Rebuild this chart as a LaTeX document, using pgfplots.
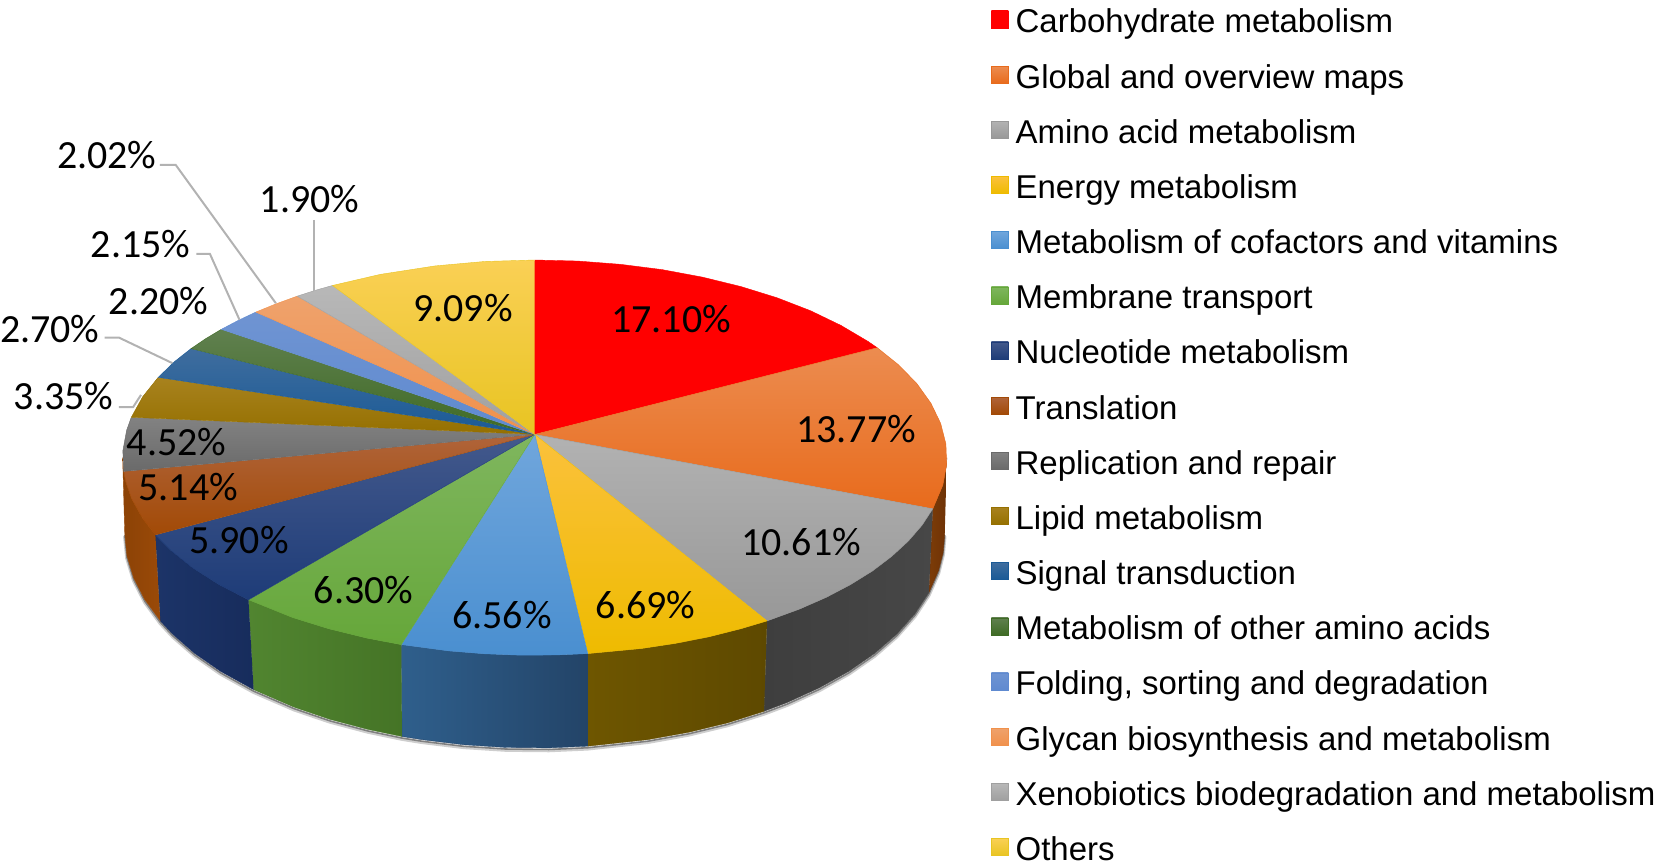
\documentclass[border=0pt]{standalone}
\usepackage{fontspec}
\setmainfont{Liberation Sans}
\newfontfamily\pct{Carlito}
\usepackage{pgfplots}
\usepackage{pgfplotstable}
\pgfplotsset{compat=1.18}

% rim of the base, picture pixels
\pgfplotstableread{
x y
893.0 504.7
891.5 522.4
887.1 539.9
878.0 560.6
864.8 580.7
847.6 600.0
826.7 618.2
802.2 635.2
774.5 650.7
743.9 664.7
722.0 673.0
687.2 684.0
650.3 692.9
611.9 699.8
555.0 706.0
518.5 707.6
477.9 707.2
437.6 704.6
398.1 699.8
379.3 696.8
347.2 690.1
311.0 680.5
277.0 668.9
238.9 652.4
207.8 635.2
183.3 618.2
162.4 600.0
150.6 587.3
136.0 567.4
125.5 546.9
119.1 525.9
117.0 504.7
}\baserim

\pgfplotsset{
  slice/.code 2 args={\definecolor{#1}{HTML}{#1}\definecolor{#2}{HTML}{#2}%
    \pgfkeysalso{/tikz/shade,/tikz/top color=#1,/tikz/bottom color=#2,/tikz/draw=#2,/tikz/line width=0.4pt}},
  wall/.code 2 args={\definecolor{#1}{HTML}{#1}\definecolor{#2}{HTML}{#2}%
    \pgfkeysalso{/tikz/shade,/tikz/left color=#1,/tikz/right color=#2,/tikz/draw=#2,/tikz/line width=0.4pt,/pgfplots/forget plot}},
  leader/.style={draw=black!30,line width=2pt,forget plot},
}
\newcommand{\pctlabel}[2]{\node[font=\pct\fontsize{40}{40}\selectfont,text=black,inner sep=0pt] at (axis cs:#1) {#2};}

\begin{document}
\begin{tikzpicture}
\begin{axis}[
  width=1658pt,height=863pt,scale only axis,
  xmin=0,xmax=1568,ymin=0,ymax=816,y dir=reverse,
  hide axis,clip=false,
  legend image code/.code={\path[#1] (0pt,-6pt) rectangle (17pt,11pt);},
  legend cell align=left,
  legend style={
    at={(axis cs:937,8.5)},anchor=north west,draw=none,fill=none,
    inner sep=0pt,outer sep=0pt,row sep=29.2pt,
    nodes={font=\fontsize{33}{33}\selectfont,text height=24pt,text depth=2pt,inner sep=0pt,outer sep=0pt},
    /tikz/column 1/.style={column sep=7pt},
  },
]
\path (axis cs:0,0) rectangle (axis cs:1568,816);

% soft shadow under the base
\addplot[draw=black!55,line width=3.5pt,opacity=0.35,forget plot] table[y expr=\thisrow{y}+2.5] {\baserim};
\addplot[draw=black!70,line width=1.6pt,opacity=0.6,forget plot] table[y expr=\thisrow{y}+1.5] {\baserim};

% walls
\addplot[wall={7C3C08}{6E3206}] coordinates {(895,433)(894.8,439.5)(891.2,459)(881.7,481.4)(878,560.6)(887.1,539.9)(891.5,522.4)(893,504.7)};
\addplot[wall={3E3E3E}{474747}] coordinates {(881.7,481.4)(871.5,497)(858.5,512)(842.7,526.5)(824.5,540.3)(803.7,553.2)(780.8,565.2)(755.7,576.2)(724.8,587.5)(722,673)(743.9,664.7)(774.5,650.7)(802.2,635.2)(826.7,618.2)(847.6,600)(864.8,580.7)(878,560.6)};
\addplot[wall={6E5600}{5E4900}] coordinates {(724.8,587.5)(700,594.9)(669.8,602.5)(638.4,608.7)(605.9,613.6)(555.2,618.4)(555,706)(611.9,699.8)(650.3,692.9)(687.2,684)(722,673)};
\addplot[wall={2F5F8C}{234468}] coordinates {(555.2,618.4)(525.4,619.7)(491.4,619.9)(457.5,618.6)(423.9,615.9)(378.7,609.9)(379.3,696.8)(398.1,699.8)(437.6,704.6)(477.9,707.2)(518.5,707.6)(555,706)};
\addplot[wall={518530}{457426}] coordinates {(378.7,609.9)(346.4,603.8)(310,594.9)(275.8,584.3)(234.1,567.5)(238.9,652.4)(277,668.9)(311,680.5)(347.2,690.1)(379.3,696.8)};
\addplot[wall={1C3468}{172C5C}] coordinates {(234.1,567.5)(206.3,553.2)(181.7,537.6)(160.7,520.8)(146,506.1)(150.6,587.3)(162.4,600)(183.3,618.2)(207.8,635.2)(238.9,652.4)};
\addplot[wall={8C4206}{9A4A08}] coordinates {(146,506.1)(134.1,490.8)(123.5,471.9)(118,455.8)(116,446)(115,433)(117,504.7)(119.1,525.9)(125.5,546.9)(136,567.4)(150.6,587.3)};

% top faces, in legend order
\addplot[slice={FF0000}{FF0001}] coordinates {(505,411)(505,246)(545.8,247)(586.1,250.1)(625.5,255.1)(663.6,262.2)(700,271.1)(734.2,281.7)(766,294)(794.8,307.9)(820.5,323.1)(829.1,329)};
\addlegendentry{Carbohydrate metabolism}
\addplot[slice={EC8C50}{E86B1C}] coordinates {(505,411)(829.1,329)(849.3,345.2)(866.6,362.9)(879.9,381.5)(889.1,400.5)(894.1,420)(894.8,439.5)(891.2,459)(881.7,481.4)};
\addlegendentry{Global and overview maps}
\addplot[slice={B2B2B2}{989898}] coordinates {(505,411)(881.7,481.4)(871.5,497)(858.5,512)(842.7,526.5)(824.5,540.3)(803.7,553.2)(780.8,565.2)(755.7,576.2)(724.8,587.5)};
\addlegendentry{Amino acid metabolism}
\addplot[slice={FBC13C}{EEBB00}] coordinates {(505,411)(724.8,587.5)(700,594.9)(669.8,602.5)(638.4,608.7)(605.9,613.6)(555.2,618.4)};
\addlegendentry{Energy metabolism}
\addplot[slice={70A6DC}{4A8FD0}] coordinates {(505,411)(555.2,618.4)(525.4,619.7)(491.4,619.9)(457.5,618.6)(423.9,615.9)(378.7,609.9)};
\addlegendentry{Metabolism of cofactors and vitamins}
\addplot[slice={7FB65E}{66A73A}] coordinates {(505,411)(378.7,609.9)(346.4,603.8)(310,594.9)(275.8,584.3)(234.1,567.5)};
\addlegendentry{Membrane transport}
\addplot[slice={43598C}{1E3C78}] coordinates {(505,411)(234.1,567.5)(206.3,553.2)(181.7,537.6)(160.7,520.8)(146,506.1)};
\addlegendentry{Nucleotide metabolism}
\addplot[slice={B0643A}{A24A06}] coordinates {(505,411)(146,506.1)(134.1,490.8)(123.5,471.9)(118,455.8)(116,446)};
\addlegendentry{Translation}
\addplot[slice={828282}{6A6A6A}] coordinates {(505,411)(116,446)(115.2,426.5)(118.8,407)(123.2,394.8)};
\addlegendentry{Replication and repair}
\addplot[slice={A8821E}{957000}] coordinates {(505,411)(123.2,394.8)(134.1,375.2)(148.7,357)};
\addlegendentry{Lipid metabolism}
\addplot[slice={3F6D9E}{1A5A96}] coordinates {(505,411)(148.7,357)(163.9,342.3)(179.8,329.8)};
\addlegendentry{Signal transduction}
\addplot[slice={60804F}{3F6B25}] coordinates {(505,411)(179.8,329.8)(193.5,320.5)(208.4,311.6)};
\addlegendentry{Metabolism of other amino acids}
\addplot[slice={6F94D2}{5F8AD0}] coordinates {(505,411)(208.4,311.6)(224.5,303.1)(241,295.3)};
\addlegendentry{Folding, sorting and degradation}
\addplot[slice={EFA26C}{F0914C}] coordinates {(505,411)(241,295.3)(259.6,287.7)(280.2,280.2)};
\addlegendentry{Glycan biosynthesis and metabolism}
\addplot[slice={B8B8B8}{A0A0A0}] coordinates {(505,411)(280.2,280.2)(298.3,274.4)(313.6,270.1)};
\addlegendentry{Xenobiotics biodegradation and metabolism}
\addplot[slice={FAD055}{E8C422}] coordinates {(505,411)(313.6,270.1)(358.9,259.6)(410.7,251.6)(457.5,247.4)(505,246)};
\addlegendentry{Others}

% leader lines
\addplot[leader] coordinates {(150.3,156)(165.2,156)(260,286.9)};
\addplot[leader] coordinates {(184.8,240.2)(197.6,240.2)(225.6,302.6)};
\addplot[leader] coordinates {(98,319.4)(111.5,319.4)(162.1,343.6)};
\addplot[leader] coordinates {(111.5,385.2)(124.9,385.2)(132.4,373.6)};
\addplot[leader] coordinates {(296.2,208)(296.2,275.8)};

\pctlabel{634,302}{17.10\%}
\pctlabel{809,406}{13.77\%}
\pctlabel{757,513}{10.61\%}
\pctlabel{610,572}{6.69\%}
\pctlabel{474,582}{6.56\%}
\pctlabel{343,558}{6.30\%}
\pctlabel{225,511}{5.90\%}
\pctlabel{177,461}{5.14\%}
\pctlabel{166,418}{4.52\%}
\pctlabel{59,375}{3.35\%}
\pctlabel{46,311}{2.70\%}
\pctlabel{149,285}{2.20\%}
\pctlabel{132,231}{2.15\%}
\pctlabel{100,147}{2.02\%}
\pctlabel{292,188}{1.90\%}
\pctlabel{437,291}{9.09\%}
\end{axis}
\end{tikzpicture}
\end{document}
